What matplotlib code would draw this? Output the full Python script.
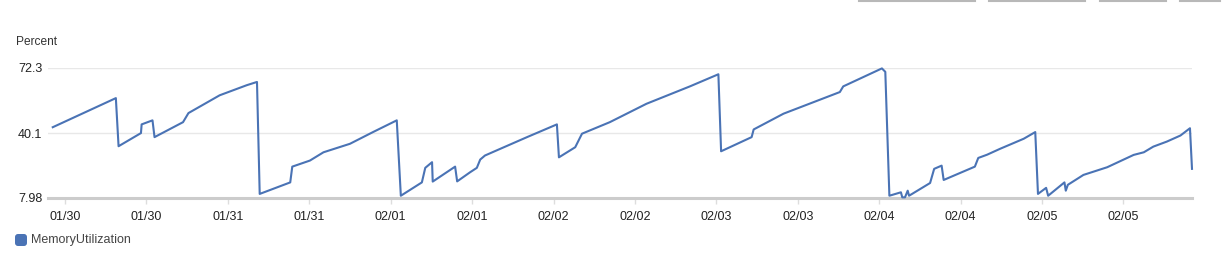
import matplotlib
matplotlib.use("Agg")
import matplotlib.pyplot as plt
from matplotlib.lines import Line2D
from matplotlib.patches import FancyBboxPatch
from matplotlib.transforms import IdentityTransform

plt.rcParams['font.family'] = ['Liberation Sans', 'DejaVu Sans']

# Hours relative to the first tick
hours = [-1.8, 7.5, 7.9, 11.2, 11.3, 12.9, 13.2, 17.4, 18.2, 22.8, 26.8, 28.3,
         28.7, 33.2, 33.5, 36.1, 38.1, 42.0, 45.4, 48.9, 49.5, 52.6, 53.1, 54.1,
         54.2, 57.5, 57.8, 59.7, 60.7, 61.2, 61.9, 63.6, 68.1, 72.5, 72.8, 75.2,
         76.2, 80.3, 85.7, 92.1, 96.3, 96.7, 101.2, 101.5, 105.9, 114.2, 114.7,
         120.4, 120.9, 121.5, 123.2, 123.4, 123.8, 124.2, 124.4, 127.5, 128.1,
         129.2, 129.5, 134.1, 134.6, 135.9, 137.8, 141.3, 143.0, 143.4, 144.6,
         144.9, 147.3, 147.5, 147.8, 150.1, 153.6, 157.5, 159.0, 160.4, 162.4,
         164.4, 165.8, 166.1]
memory = [43.0, 57.4, 33.6, 40.1, 44.4, 46.4, 38.1, 45.5, 50.0, 58.8, 63.8, 65.4,
          10.0, 15.7, 23.5, 26.5, 30.6, 34.8, 40.6, 46.4, 9.1, 15.7, 22.9, 25.7,
          16.1, 23.5, 16.2, 20.7, 22.9, 27.0, 29.0, 31.5, 38.1, 44.4, 28.1, 33.1,
          39.8, 45.5, 54.6, 63.2, 69.2, 31.1, 38.1, 41.9, 49.7, 60.4, 63.2,
          72.1, 70.4, 9.1, 10.8, 8.3, 8.3, 11.6, 9.1, 15.4, 22.4,
          24.0, 16.9, 23.5, 27.8, 29.4, 32.3, 37.3, 40.6, 10.0, 13.0,
          9.1, 15.7, 11.6, 14.5, 19.4, 23.2, 29.3, 30.6, 33.4, 35.9,
          38.9, 42.5, 22.4]

tick_hours = [12 * k for k in range(14)]
tick_labels = ["01/30", "01/30", "01/31", "01/31", "02/01", "02/01", "02/02",
               "02/02", "02/03", "02/03", "02/04", "02/04", "02/05", "02/05"]
y_ticks = [7.98, 40.1, 72.3]
y_labels = ["7.98", "40.1", "72.3"]

W, H = 1226, 265
fig = plt.figure(figsize=(W / 100, H / 100), dpi=100)
ax = fig.add_axes([48 / W, (H - 198) / H, (1192 - 48) / W, (198 - 68) / H])

line_color = "#4a73b5"
ax.plot(hours, memory, color=line_color, lw=1.5, clip_on=False, zorder=3)

ax.set_xlim(-2.5, 166.1)
ax.set_ylim(7.98, 72.3)

for s in ["top", "right", "left"]:
    ax.spines[s].set_visible(False)
ax.spines["bottom"].set_color("#cccccc")
ax.spines["bottom"].set_linewidth(2.2)

ax.set_xticks(tick_hours)
ax.set_xticklabels(tick_labels)
ax.set_yticks(y_ticks)
ax.set_yticklabels(y_labels)
ax.tick_params(axis="x", length=4, width=1, color="#dddddd", pad=5,
               labelsize=9, labelcolor="#222222")
ax.tick_params(axis="y", length=0, pad=4, labelsize=9, labelcolor="#222222")
for yv in y_ticks[1:]:
    ax.axhline(yv, color="#e8e8e8", lw=1, zorder=1)

fig.text(16 / W, (H - 42) / H, "Percent", fontsize=8.6, color="#333333",
         ha="left", va="center")

# legend (pixel coordinates, origin bottom-left)
sq = FancyBboxPatch((15, H - 246), 12, 12,
                    boxstyle="round,pad=0,rounding_size=3",
                    transform=IdentityTransform(), facecolor=line_color,
                    edgecolor="none")
fig.add_artist(sq)
fig.text(31 / W, (H - 240) / H, "MemoryUtilization", fontsize=9,
         color="#444444", ha="left", va="center")

# top button edges
for x0, x1 in [(859, 975), (989, 1085), (1100, 1166), (1180, 1220)]:
    fig.add_artist(Line2D([x0 / W, x1 / W], [(H - 0.5) / H, (H - 0.5) / H],
                          transform=fig.transFigure, color="#b8b8b8", lw=1.5))

fig.savefig("out.png", dpi=100, facecolor="white")
